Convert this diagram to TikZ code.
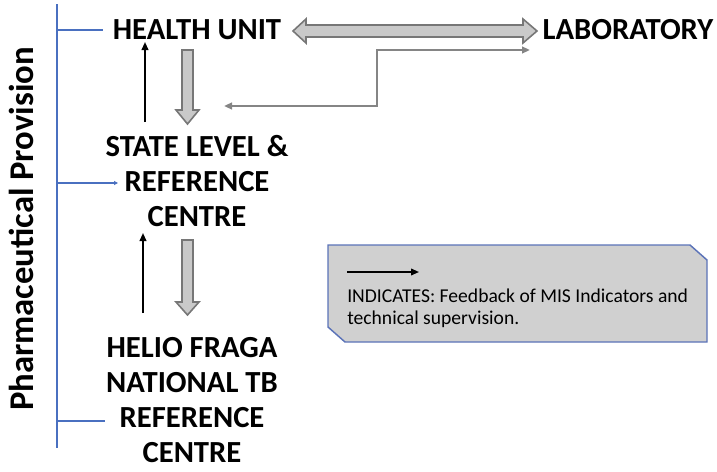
\documentclass[tikz,border=0pt]{standalone}
\usepackage{fontspec}
\setmainfont{Carlito}
\usetikzlibrary{arrows.meta}
\definecolor{axisblue}{HTML}{4A70C0}
\definecolor{blockfill}{HTML}{C9C9C9}
\definecolor{blockline}{HTML}{777777}
\definecolor{linkgray}{HTML}{858585}
\definecolor{notefill}{HTML}{D0D0D0}
\definecolor{noteline}{HTML}{5B73B8}
\begin{document}
\begin{tikzpicture}[x=0.75pt,y=-0.75pt,
  level/.style={font=\bfseries\fontsize{23}{26.3}\selectfont, align=center, inner sep=0pt},
  axis/.style={draw=axisblue, line width=1.6pt},
  blockarrow/.style={fill=blockfill, draw=blockline, line width=1.2pt, line join=miter},
  feedback/.style={draw=black, line width=1.3pt, -{Triangle[length=6pt,width=5pt]}},
  link/.style={draw=linkgray, line width=1.5pt, {Triangle[length=6pt,width=5pt]}-{Triangle[length=6pt,width=5pt]}},
  note/.style={fill=notefill, draw=noteline, line width=1.1pt},
  notetext/.style={font=\fontsize{14.7}{16.2}\selectfont, align=left, inner sep=0pt, anchor=west}]
\useasboundingbox (0,0) rectangle (717,471);

% level labels
\node[level] (health) at (197,30) {HEALTH UNIT};
\node[level] (lab) at (628,30) {LABORATORY};
\node[level] (state) at (197,181) {STATE LEVEL \&\\REFERENCE\\CENTRE};
\node[level] (helio) at (192,400) {HELIO FRAGA\\NATIONAL TB\\REFERENCE\\CENTRE};
\node[font=\bfseries\fontsize{26}{30}\selectfont, rotate=90, inner sep=0pt] (axislabel) at (21,229) {Pharmaceutical Provision};

% axis with ticks
\coordinate (axtop) at (57,4);
\coordinate (axbot) at (57,448);
\draw[axis] (axtop) -- (axbot);
\coordinate (t1) at (57,30);  \coordinate (t1e) at (103,30);
\coordinate (t2) at (57,183); \coordinate (t2e) at (118,183);
\coordinate (t3) at (57,421); \coordinate (t3e) at (105,421);
\draw[axis] (t1) -- (t1e);
\draw[axis, -{Triangle[length=3pt,width=3pt]}] (t2) -- (t2e);
\draw[axis] (t3) -- (t3e);

% two-way flow between health unit and laboratory
\draw[blockarrow] (293,31) -- (306,19) -- (306,25) -- (523,25) -- (523,19) -- (537,31)
  -- (523,43) -- (523,37) -- (306,37) -- (306,43) -- cycle;

% downward supply arrows
\draw[blockarrow] (182,50) -- (193,50) -- (193,110) -- (199,110) -- (187.5,124)
  -- (176,110) -- (182,110) -- cycle;
\draw[blockarrow] (182,240) -- (193,240) -- (193,302) -- (199,302) -- (187.5,315)
  -- (176,302) -- (182,302) -- cycle;

% feedback arrows
\coordinate (f1s) at (145,122); \coordinate (f1e) at (145,42);
\coordinate (f2s) at (143,313); \coordinate (f2e) at (143,233);
\draw[feedback] (f1s) -- (f1e);
\draw[feedback] (f2s) -- (f2e);

% link between state level and laboratory
\coordinate (ls) at (224,106);
\coordinate (le) at (530,50);
\draw[link] (ls) -- (377,106) -- (377,50) -- (le);

% legend box
\draw[note] (328,245) -- (690,245) -- (707,260) -- (707,342) -- (345,342) -- (328,327) -- cycle;
\coordinate (ks) at (347,272);
\coordinate (ke) at (419,272);
\draw[feedback, line width=1.2pt] (ks) -- (ke);
\node[notetext] (legend) at (347,308) {INDICATES: Feedback of MIS Indicators and\\technical supervision.};
\end{tikzpicture}
\end{document}
